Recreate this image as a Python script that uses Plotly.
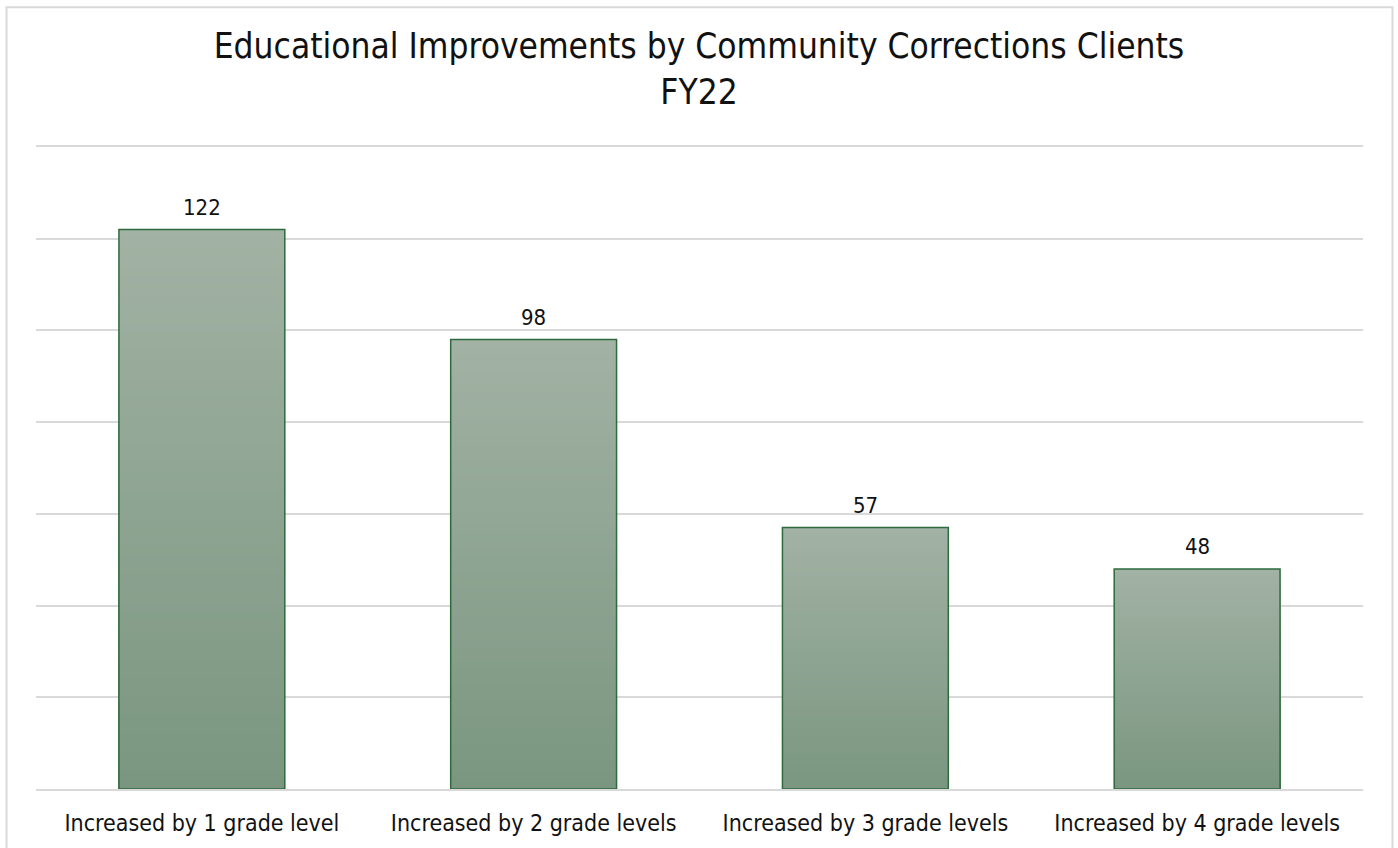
import plotly.graph_objects as go

categories = ["Increased by 1 grade level", "Increased by 2 grade levels",
              "Increased by 3 grade levels", "Increased by 4 grade levels"]
values = [122, 98, 57, 48]
title_lines = ["Educational Improvements by Community Corrections Clients", "FY22"]

FONT = "Tahoma, DejaVu Sans Condensed, DejaVu Sans, sans-serif"
TOP = (0xA2, 0xB2, 0xA4)
BOT = (0x7A, 0x96, 0x80)
N = 60

fig = go.Figure()
# gradient: nested bars from full height (lightest) to shortest (darkest)
for k in range(N):
    frac = (N - k) / N
    t = (N - k - 0.5) / N
    c = tuple(round(BOT[i] + (TOP[i] - BOT[i]) * t) for i in range(3))
    fig.add_trace(go.Bar(
        x=categories, y=[v * frac for v in values],
        marker=dict(color="rgb(%d,%d,%d)" % c, line=dict(width=0)),
        hoverinfo="skip", showlegend=False))
fig.add_trace(go.Bar(
    x=categories, y=values,
    marker=dict(color="rgba(0,0,0,0)", line=dict(color="#2f6a3e", width=1.5)),
    showlegend=False))

for c, v in zip(categories, values):
    fig.add_annotation(x=c, y=v, text=str(v), showarrow=False, yanchor="bottom",
                       yshift=8, font=dict(family=FONT, size=22, color="#111111"))

L, R, T, B = 36, 35, 147, 55
W, H = 1398, 848
pw, ph = W - L - R, H - T - B

fig.add_shape(type="rect", xref="paper", yref="paper",
              x0=(6.5 - L) / pw, x1=(1392.5 - L) / pw,
              y0=(H - B - 860) / ph, y1=(H - B - 6.5) / ph,
              line=dict(color="#d9d9d9", width=2), layer="below")

fig.update_layout(
    width=W, height=H,
    margin=dict(l=L, r=R, t=T, b=B),
    paper_bgcolor="white", plot_bgcolor="white",
    barmode="overlay", bargap=0.5,
    font=dict(family=FONT),
    title=dict(text="<br>".join(title_lines), x=0.5, xanchor="center",
               y=1 - 58 / H, yanchor="middle",
               font=dict(family=FONT, size=35, color="#111111")),
    xaxis=dict(showgrid=False, showline=True, mirror=True, linecolor="#d9d9d9", linewidth=1.5,
               ticks="", ticklabelstandoff=13,
               tickfont=dict(family=FONT, size=23, color="#111111")),
    yaxis=dict(range=[0, 140], dtick=20, showgrid=True, gridcolor="#d9d9d9", gridwidth=1.5,
               showticklabels=False, zeroline=False, showline=False,
               fixedrange=True),
)
fig.write_html("out.html")
